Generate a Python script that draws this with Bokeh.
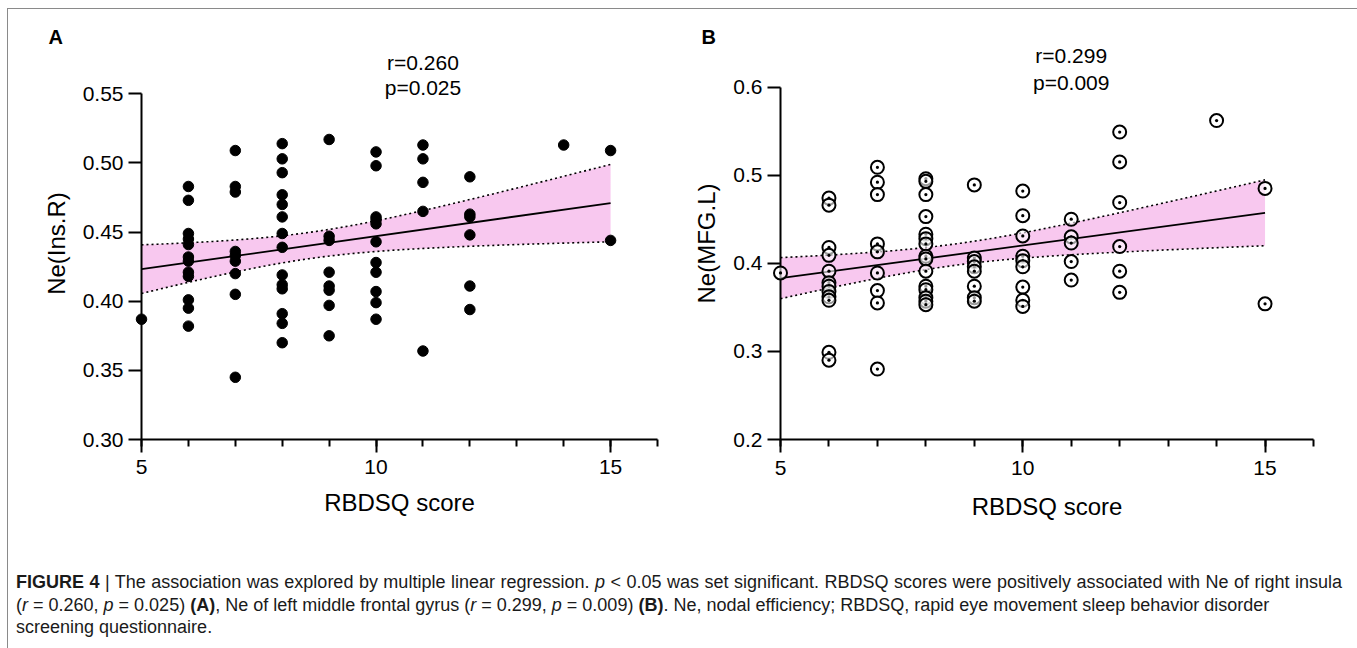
import numpy as np
from bokeh.plotting import figure
from bokeh.models import (ColumnDataSource, FixedTicker, SingleIntervalTicker,
                          PrintfTickFormatter, Label, Div, Range1d)
from bokeh.layouts import row, column
from bokeh.embed import file_html
from bokeh.resources import INLINE

# ---------------- data ----------------
# Panel A: RBDSQ score vs Ne(Ins.R)
a_score = ([5] + [6] * 12 + [7] * 9 + [8] * 14 + [9] * 8 + [10] * 11 +
           [11] * 5 + [12] * 6 + [14] + [15] * 2)
a_ne = [0.387,
        0.483, 0.473, 0.449, 0.445, 0.441, 0.432, 0.429, 0.421, 0.418, 0.401, 0.395, 0.382,
        0.509, 0.483, 0.479, 0.436, 0.433, 0.429, 0.420, 0.405, 0.345,
        0.514, 0.503, 0.493, 0.477, 0.470, 0.461, 0.449, 0.439, 0.419, 0.412, 0.409, 0.391, 0.384, 0.370,
        0.517, 0.447, 0.444, 0.421, 0.411, 0.408, 0.397, 0.375,
        0.508, 0.498, 0.461, 0.459, 0.456, 0.443, 0.428, 0.421, 0.407, 0.399, 0.387,
        0.513, 0.503, 0.486, 0.465, 0.364,
        0.490, 0.463, 0.461, 0.448, 0.411, 0.394,
        0.513,
        0.509, 0.444]

# Panel B: RBDSQ score vs Ne(MFG.L)
b_score = ([5] + [6] * 12 + [7] * 9 + [8] * 15 + [9] * 8 + [10] * 9 +
           [11] * 5 + [12] * 6 + [14] + [15] * 2)
b_ne = [0.389,
        0.474, 0.466, 0.418, 0.409, 0.391, 0.378, 0.374, 0.368, 0.362, 0.358, 0.299, 0.290,
        0.509, 0.492, 0.478, 0.422, 0.413, 0.389, 0.369, 0.355, 0.280,
        0.496, 0.493, 0.478, 0.453, 0.433, 0.428, 0.422, 0.408, 0.405, 0.391, 0.374, 0.370, 0.361, 0.357, 0.353,
        0.489, 0.406, 0.402, 0.396, 0.391, 0.374, 0.361, 0.357,
        0.482, 0.454, 0.431, 0.408, 0.403, 0.396, 0.373, 0.358, 0.351,
        0.450, 0.430, 0.423, 0.402, 0.381,
        0.549, 0.515, 0.469, 0.419, 0.391, 0.367,
        0.562,
        0.485, 0.354]

# Regression line and 95% band at score 5 / 15
fit_x = [5, 15]
a_fit = [0.4232, 0.4710]
a_lo = [0.4058, 0.4428]
a_hi = [0.4408, 0.4990]
b_fit = [0.3831, 0.4573]
b_lo = [0.3607, 0.4194]
b_hi = [0.4064, 0.4947]

a_ticks = [0.30, 0.35, 0.40, 0.45, 0.50, 0.55]
b_ticks = [0.2, 0.3, 0.4, 0.5, 0.6]
x_ticks_interval = 5

a_stats = ["r=0.260", "p=0.025"]
b_stats = ["r=0.299", "p=0.009"]

FONT = "Liberation Sans"
PINK = "#f8c8ef"


def band_curve(xs, fit, lo, hi, n=60):
    """Hyperbolic CI band through the read end-point widths."""
    x0, x1 = xs
    slope = (fit[1] - fit[0]) / (x1 - x0)
    w0 = hi[0] - fit[0]
    w1 = hi[1] - fit[1]
    m = 8.6
    d = (w1 ** 2 - w0 ** 2) / ((x1 - m) ** 2 - (x0 - m) ** 2)
    c = w0 ** 2 - d * (x0 - m) ** 2
    xx = np.linspace(x0, x1, n)
    yy = fit[0] + slope * (xx - x0)
    hh = np.sqrt(np.maximum(c + d * (xx - m) ** 2, 1e-8))
    return xx, yy - hh, yy + hh


def make_panel(score, ne, xs, fit, lo, hi, y0, y1, y_top, ticks, fmt, ylabel, stats,
               letter, letter_offset, width, height, mb, marker, stats_xy, xstand):
    p = figure(width=width, height=height, output_backend="svg", toolbar_location=None,
               x_range=Range1d(5, 16.0001), y_range=Range1d(y0, y_top),
               min_border_left=mb[0], min_border_right=mb[1],
               min_border_top=mb[2], min_border_bottom=mb[3])
    p.outline_line_color = None
    p.xgrid.visible = False
    p.ygrid.visible = False
    p.background_fill_color = "white"
    p.border_fill_color = "white"

    # panel letter as the plot title
    p.title.text = letter
    p.title.align = "left"
    p.title.offset = letter_offset
    p.title.vertical_align = "bottom"
    p.title.standoff = 0
    p.title.text_font = FONT
    p.title.text_font_size = "20px"
    p.title.text_font_style = "bold"
    p.title.text_color = "black"

    xx, lo_c, hi_c = band_curve(xs, fit, lo, hi)
    p.varea(x=xx, y1=lo_c, y2=hi_c, fill_color=PINK, fill_alpha=1.0)
    p.line(xx, lo_c, line_color="black", line_width=1.6, line_dash="2 3")
    p.line(xx, hi_c, line_color="black", line_width=1.6, line_dash="2 3")
    p.line(xs, fit, line_color="black", line_width=1.8)

    src = ColumnDataSource(dict(x=score, y=ne))
    if marker == "circle":
        r = p.scatter("x", "y", source=src, marker="circle", size=10.5,
                      fill_color="black", line_color="black")
    else:
        r = p.scatter("x", "y", source=src, marker="circle_dot", size=13,
                      fill_color="white", fill_alpha=0.6, line_color="black", line_width=2)
    r.level = "overlay"

    for ax in (p.xaxis[0], p.yaxis[0]):
        ax.axis_line_width = 2
        ax.major_tick_line_width = 2
        ax.minor_tick_line_width = 2
        ax.major_tick_in = 0
        ax.major_tick_out = 13
        ax.minor_tick_in = 0
        ax.minor_tick_out = 7
        ax.major_label_text_font = FONT
        ax.major_label_text_font_size = "21px"
        ax.major_label_text_color = "black"
        ax.axis_label_text_font = FONT
        ax.axis_label_text_font_size = "24px"
        ax.axis_label_text_font_style = "normal"
        ax.axis_label_text_color = "black"

    p.xaxis.ticker = SingleIntervalTicker(interval=x_ticks_interval, num_minor_ticks=5)
    p.xaxis.axis_label = "RBDSQ score"
    p.xaxis.major_label_standoff = xstand[0]
    p.xaxis.axis_label_standoff = xstand[1]

    p.yaxis.ticker = FixedTicker(ticks=ticks, minor_ticks=[])
    p.yaxis.formatter = PrintfTickFormatter(format=fmt)
    p.yaxis.bounds = (y0, y1)
    p.yaxis.axis_label = ylabel
    p.yaxis.major_label_standoff = 5
    p.yaxis.axis_label_standoff = 10

    common = dict(text_font=FONT, text_font_size="21px", text_baseline="middle",
                  text_align="center", text_color="black")
    p.add_layout(Label(x=stats_xy[0], y=stats_xy[1], text=stats[0], **common))
    p.add_layout(Label(x=stats_xy[0], y=stats_xy[2], text=stats[1], **common))
    return p


pA = make_panel(a_score, a_ne, fit_x, a_fit, a_lo, a_hi, 0.30, 0.55, 0.58353, a_ticks, "%.2f",
                "Ne(Ins.R)", a_stats, "A", -93, 672, 530, (133, 23, 38, 100), "circle",
                (11.0, 0.57266, 0.55492), (7, 12))
pB = make_panel(b_score, b_ne, fit_x, b_fit, b_lo, b_hi, 0.2, 0.6, 0.64494, b_ticks, "%.1f",
                "Ne(MFG.L)", b_stats, "B", -79, 673, 530, (100, 40, 38, 96), "circle_dot",
                (11.0, 0.63596, 0.60562), (8, 15))

caption_html = (
    '<div style="font-family:\'Liberation Sans\',sans-serif;'
    'font-size:18px;line-height:22.7px;color:#1a1a1a;padding:27px 0 0 3px;">'
    '<div style="width:1326px;white-space:nowrap;text-align:justify;text-align-last:justify;">'
    '<b>FIGURE 4</b> | The association was explored by multiple linear regression. '
    '<i>p</i> &lt; 0.05 was set significant. RBDSQ scores were positively associated with Ne of right insula</div>'
    '<div style="white-space:nowrap;">'
    '(<i>r</i> = 0.260, <i>p</i> = 0.025) <b>(A)</b>, Ne of left middle frontal gyrus '
    '(<i>r</i> = 0.299, <i>p</i> = 0.009) <b>(B)</b>. Ne, nodal efficiency; RBDSQ, rapid eye movement sleep behavior disorder</div>'
    '<div style="white-space:nowrap;">screening questionnaire.</div></div>'
)
caption = Div(text=caption_html, width=1345, height=105)

layout = column(row(pA, pB), caption, styles={"border": "1px solid #8a8a8a"})
layout.margin = (8, 0, 0, 7)

open("out.html", "w").write(file_html(layout, INLINE))
